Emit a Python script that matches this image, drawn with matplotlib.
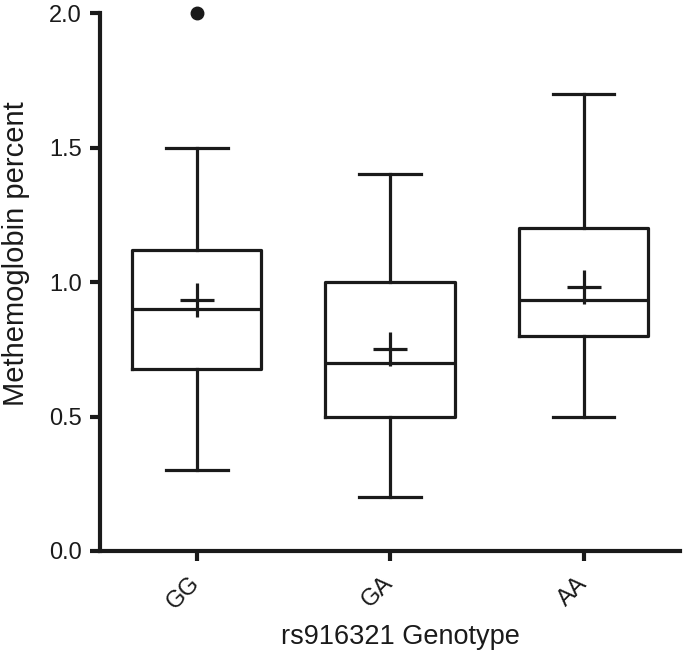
import matplotlib.pyplot as plt

plt.rcParams['font.family'] = ['Liberation Sans', 'DejaVu Sans']

# Box statistics
genotypes = ['GG', 'GA', 'AA']
whisker_low = [0.30, 0.20, 0.50]
q1 = [0.675, 0.50, 0.80]
medians = [0.90, 0.70, 0.935]
q3 = [1.12, 1.00, 1.20]
whisker_high = [1.50, 1.40, 1.70]
means = [0.935, 0.75, 0.98]
outliers = [[2.0], [], []]

stats = []
for i, g in enumerate(genotypes):
    stats.append({
        'label': g, 'whislo': whisker_low[i], 'q1': q1[i], 'med': medians[i],
        'q3': q3[i], 'whishi': whisker_high[i], 'mean': means[i], 'fliers': outliers[i],
    })

fig = plt.figure(figsize=(6.85, 6.54), dpi=100)
ax = fig.add_axes([0.146, 0.1575, 0.847, 0.8225])

ink = '#1a1a1a'
lw = 2.3
ax.bxp(stats, positions=[0, 1, 2], widths=0.67, showmeans=True,
       boxprops=dict(color=ink, linewidth=lw),
       whiskerprops=dict(color=ink, linewidth=lw),
       capprops=dict(color=ink, linewidth=lw),
       medianprops=dict(color=ink, linewidth=lw),
       meanprops=dict(marker='+', markersize=24, markeredgewidth=lw,
                      markeredgecolor=ink),
       flierprops=dict(marker='o', markersize=9, markerfacecolor=ink,
                       markeredgecolor=ink, clip_on=False),
       capwidths=0.32)

ax.set_xlim(-0.5, 2.5)
ax.set_ylim(0, 2.0)
ax.set_yticks([0, 0.5, 1.0, 1.5, 2.0])
ax.set_yticklabels(['0.0', '0.5', '1.0', '1.5', '2.0'])
ax.set_xticks([0, 1, 2])
ax.set_xticklabels(genotypes, rotation=45, ha='right', va='center',
                   rotation_mode='anchor')

for s in ['top', 'right']:
    ax.spines[s].set_visible(False)
for s in ['left', 'bottom']:
    ax.spines[s].set_linewidth(3)
    ax.spines[s].set_color(ink)
ax.spines['left'].set_bounds(0, 2.0)
ax.tick_params(axis='both', direction='out', length=7, width=3, color=ink,
               labelsize=17, labelcolor=ink, pad=6)
ax.tick_params(axis='x', pad=14)

ax.set_ylabel('Methemoglobin percent', fontsize=21, color=ink)
ax.yaxis.set_label_coords(-0.12, 0.552)
ax.set_xlabel('rs916321 Genotype', fontsize=19.5, color=ink)
ax.xaxis.set_label_coords(0.517, -0.136)

fig.savefig('out.png', dpi=100)
